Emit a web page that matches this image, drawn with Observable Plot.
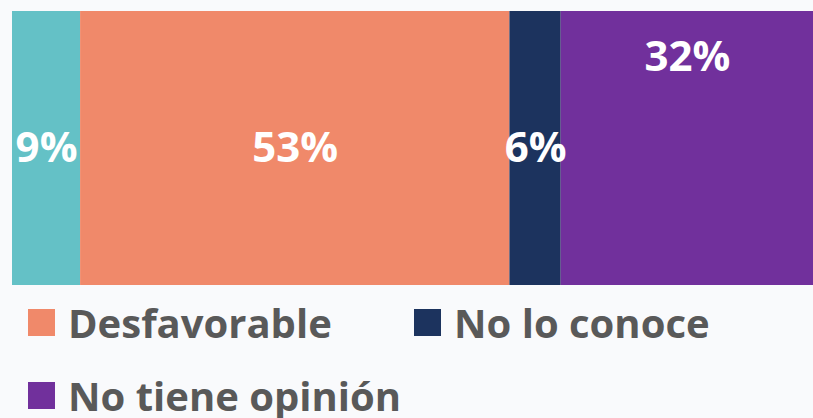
<!DOCTYPE html>
<html>
<head>
<meta charset="utf-8">
<script src="https://cdn.jsdelivr.net/npm/d3@7"></script>
<script src="https://cdn.jsdelivr.net/npm/@observablehq/plot@0.6"></script>
<style>
  html, body { margin: 0; padding: 0; background: #f9fafc; }
  body { width: 813px; height: 418px; overflow: hidden; font-family: "Open Sans", Lato, sans-serif; }
  #legend { display: flex; flex-wrap: wrap; padding-left: 28px; margin-top: 24px; width: 813px; box-sizing: border-box; }
  .item { display: flex; align-items: center; width: 386px; height: 27px; margin-bottom: 46px; flex: none; }
  .sw { width: 27px; height: 27px; margin-right: 13px; flex: none; }
  .lab { font-size: 40px; font-weight: 700; color: #595959; line-height: 27px; white-space: nowrap; }
</style>
</head>
<body>
<div id="chart"></div>
<div id="legend"></div>
<script>
const categories = ["Favorable", "Desfavorable", "No lo conoce", "No tiene opinión"];
const values = [8.5, 53.6, 6.4, 31.5];
const labels = ["9%", "53%", "6%", "32%"];
const colors = ["#64c1c6", "#f0896a", "#1c335e", "#71309c"];
const legendItems = ["Desfavorable", "No lo conoce", "No tiene opinión"];

const ends = d3.cumsum(values);
const table = categories.map((c, i) => ({
  cat: c, value: values[i], x1: ends[i] - values[i], x2: ends[i],
  mid: ends[i] - values[i] / 2, label: labels[i], top: i === 3
}));

const font = "'Open Sans', Lato, sans-serif";
const plot = Plot.plot({
  width: 813,
  height: 285,
  marginLeft: 12, marginRight: 0, marginTop: 11, marginBottom: 0,
  x: {domain: [0, 100], axis: null},
  y: {axis: null},
  color: {domain: categories, range: colors},
  style: {background: "transparent"},
  marks: [
    Plot.rectX(table, {x1: "x1", x2: "x2", fill: "cat"}),
    Plot.text(table.filter(d => !d.top), {x: "mid", text: "label", frameAnchor: "middle", fill: "white", fontSize: 42, fontWeight: 700, fontFamily: font}),
    Plot.text(table.filter(d => d.top), {x: "mid", text: "label", frameAnchor: "top", dy: 46, lineAnchor: "middle", fill: "white", fontSize: 42, fontWeight: 700, fontFamily: font})
  ]
});
document.getElementById("chart").append(plot);

const leg = document.getElementById("legend");
legendItems.forEach(name => {
  const i = categories.indexOf(name);
  const it = document.createElement("div");
  it.className = "item";
  it.innerHTML = `<div class="sw" style="background:${colors[i]}"></div><div class="lab">${name}</div>`;
  leg.append(it);
});
</script>
</body>
</html>
